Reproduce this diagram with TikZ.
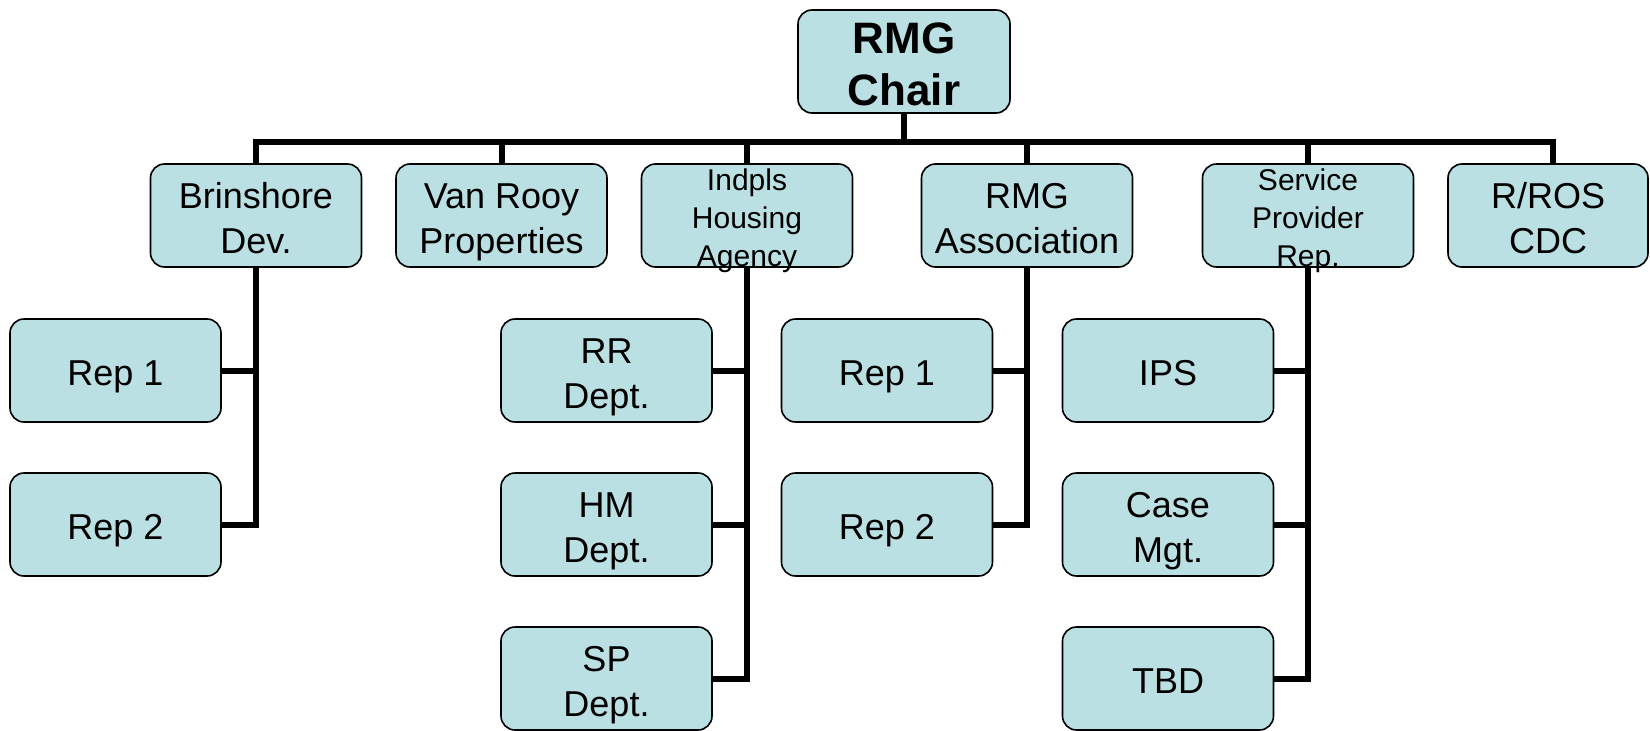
\documentclass[tikz,border=0pt]{standalone}
\usepackage{fontspec}
\setmainfont{Liberation Sans}
\usetikzlibrary{backgrounds,calc}
\definecolor{boxfill}{RGB}{186,224,227}
\newcommand{\topstrut}{\rule{0pt}{1.09em}}
\tikzset{
  orgbox/.style={draw=black, line width=1.6pt, fill=boxfill, rounded corners=14pt,
    minimum width=211pt, minimum height=103pt, inner xsep=0pt, inner ysep=-30pt,
    align=center, font=\fontsize{36}{45}\selectfont,
    execute at end node={\rule[-0.25em]{0pt}{0pt}}},
  smalltext/.style={font=\fontsize{30}{38}\selectfont},
  chairtext/.style={font=\fontsize{44}{52}\selectfont\bfseries},
  conn/.style={draw=black, line width=6pt, line join=miter, line cap=rect}
}
\begin{document}
\begin{tikzpicture}[x=1pt,y=-1pt]
\useasboundingbox (0,0) rectangle (1650,731);
% top
\node[orgbox, chairtext, minimum width=212pt] (chair) at (904,61.5) {\topstrut RMG\\Chair};
% first row
\node[orgbox] (brin) at (256,215.5) {\topstrut Brinshore\\Dev.};
\node[orgbox] (van) at (501.5,215.5) {\topstrut Van Rooy\\Properties};
\node[orgbox, smalltext] (iha) at (747,215.5) {\topstrut Indpls\\Housing\\Agency};
\node[orgbox] (assoc) at (1027,215.5) {\topstrut RMG\\Association};
\node[orgbox, smalltext] (spr) at (1308,215.5) {\topstrut Service\\Provider\\Rep.};
\node[orgbox, minimum width=200pt] (rros) at (1548,215.5) {\topstrut R/ROS\\CDC};
% Brinshore reps
\node[orgbox] (br1) at (115.5,370.5) {\topstrut Rep 1};
\node[orgbox] (br2) at (115.5,524.5) {\topstrut Rep 2};
% housing agency depts
\node[orgbox] (rr) at (606.5,370.5) {\topstrut RR\\Dept.};
\node[orgbox] (hm) at (606.5,524.5) {\topstrut HM\\Dept.};
\node[orgbox] (sp) at (606.5,678.5) {\topstrut SP\\Dept.};
% association reps
\node[orgbox] (ar1) at (887,370.5) {\topstrut Rep 1};
\node[orgbox] (ar2) at (887,524.5) {\topstrut Rep 2};
% service providers
\node[orgbox] (ips) at (1168,370.5) {\topstrut IPS};
\node[orgbox] (cm) at (1168,524.5) {\topstrut Case\\Mgt.};
\node[orgbox] (tbd) at (1168,678.5) {\topstrut TBD};
\coordinate (bar) at (904,141.5);
\coordinate (rrostop) at ($(rros.north)+(5,0)$);
\begin{scope}[on background layer]
  \draw[conn] (chair.south) -- (bar);
  \draw[conn] (brin.north) |- (bar) -| (rrostop);
  \draw[conn] (van.north) -- (van.north |- bar);
  \draw[conn] (iha.north) -- (iha.north |- bar);
  \draw[conn] (assoc.north) -- (assoc.north |- bar);
  \draw[conn] (spr.north) -- (spr.north |- bar);
  % children
  \draw[conn] (brin.south) |- (br2.east);
  \draw[conn] (br1.east) -- (br1.east -| brin.south);
  \draw[conn] (iha.south) |- (sp.east);
  \draw[conn] (rr.east) -- (rr.east -| iha.south);
  \draw[conn] (hm.east) -- (hm.east -| iha.south);
  \draw[conn] (assoc.south) |- (ar2.east);
  \draw[conn] (ar1.east) -- (ar1.east -| assoc.south);
  \draw[conn] (spr.south) |- (tbd.east);
  \draw[conn] (ips.east) -- (ips.east -| spr.south);
  \draw[conn] (cm.east) -- (cm.east -| spr.south);
\end{scope}
\end{tikzpicture}
\end{document}
